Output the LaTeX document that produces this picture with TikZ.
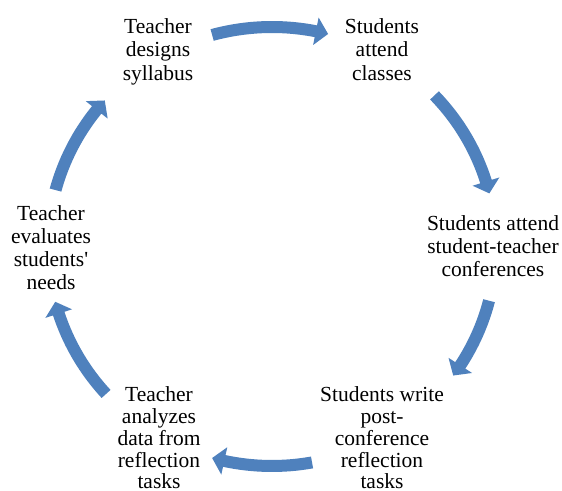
\documentclass[tikz,border=0pt]{standalone}
\usepackage{fontspec}
\setmainfont{Liberation Serif}[Ligatures=TeXOff]
\definecolor{cycblue}{RGB}{79,129,189}
\newcommand{\cycarrow}[2]{%
  \fill[cycblue] (#1:230pt and 225.5pt)
    arc[start angle=#1, end angle={#2+3.2}, x radius=230pt, y radius=225.5pt]
    -- ({#2+3.2}:238pt and 233.5pt)
    -- (#2:224pt and 219.5pt)
    -- ({#2+3.2}:210pt and 205.5pt)
    -- ({#2+3.2}:218pt and 213.5pt)
    arc[start angle={#2+3.2}, end angle=#1, x radius=218pt, y radius=213.5pt]
    -- cycle;}
\begin{document}
\begin{tikzpicture}[x=1pt,y=1pt,
  lbl/.style={anchor=north, inner sep=0pt, align=center, text=black}]
\useasboundingbox (0,0) rectangle (562,490);
\fill[white] (0,0) rectangle (562,490);
\node[lbl, font=\fontsize{21.5}{23.5}\selectfont] (tl) at (158,472) {Teacher\\designs\\syllabus};
\node[lbl, font=\fontsize{21.5}{23.5}\selectfont] (tr) at (382,472) {Students\\attend\\classes};
\node[lbl, font=\fontsize{21.5}{23}\selectfont] (r) at (493,275) {Students attend\\student-teacher\\conferences};
\node[lbl, font=\fontsize{21.5}{21.8}\selectfont] (b) at (382,103.5) {Students write\\post-\\conference\\reflection\\tasks};
\node[lbl, font=\fontsize{21.5}{21.8}\selectfont] (bl) at (159,103.5) {Teacher\\analyzes\\data from\\reflection\\tasks};
\node[lbl, font=\fontsize{21.5}{23}\selectfont] (l) at (51,285) {Teacher\\evaluates\\students'\\needs};
\begin{scope}[shift={(272,243.5)}]
  \cycarrow{105.5}{75.5}
  \cycarrow{43.5}{14}
  \cycarrow{-14.3}{-36}
  \cycarrow{-79.7}{-105.5}
  \cycarrow{222.2}{194.6}
  \cycarrow{165.1}{138.3}
\end{scope}
\end{tikzpicture}
\end{document}
